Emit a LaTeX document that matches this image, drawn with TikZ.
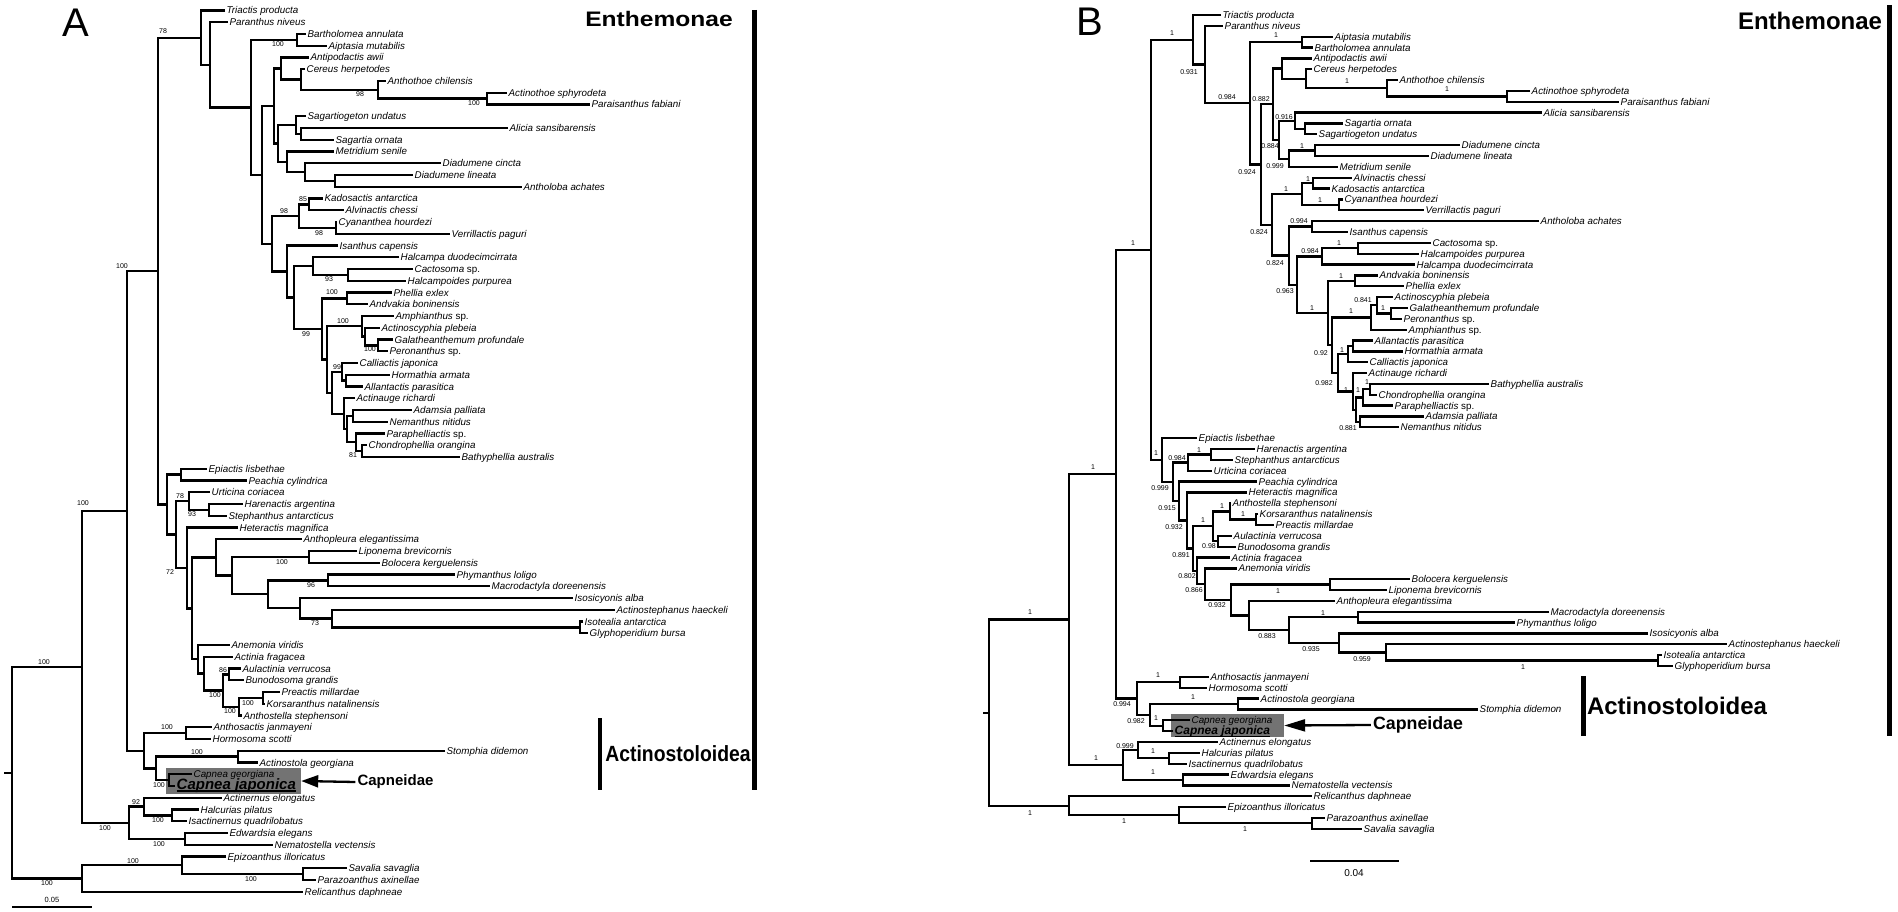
\documentclass[tikz,border=0pt]{standalone}
\usepackage{fontspec}
\setmainfont{Liberation Sans}
\usetikzlibrary{calc,arrows.meta}
\definecolor{capgray}{gray}{0.45}
\newcommand\tipfont{\fontsize{9.8}{10}\selectfont\itshape}
\newcommand\capA{\fontsize{15}{15}\selectfont\bfseries}
\newcommand\capB{\fontsize{12}{12}\selectfont\bfseries}
\newcommand\thickul[1]{\setbox0\hbox{#1}\rlap{\rule[-2.2pt]{\wd0}{1.3pt}}#1}
\newcommand\clade[4]{\path let \p1=(#3), \p2=(#4) in coordinate (#1) at (#2pt,{(\y1+\y2)/2});
\draw[branch] (#3) -| (#1) |- (#4);}
\begin{document}
\begin{tikzpicture}[x=1pt,y=-1pt,branch/.style={line width=2.3pt},tip/.style={anchor=west,font=\tipfont,inner sep=1.5pt,text height=9pt,text depth=2pt},bs/.style={font=\fontsize{7}{7}\selectfont,inner sep=0pt},bar/.style={line width=5pt},capbox/.style={fill=capgray,inner sep=0pt},pointer/.style={line width=2.3pt,-{Triangle[length=17pt,width=12pt]}}]
\useasboundingbox (0,0) rectangle (1898,912);
\def\ya{11.75}
\def\yb{10.85}

% panel A
\node[capbox,minimum width=135pt,minimum height=26pt] (boxA) at (233.5,781) {};
\foreach \x/\t [count=\i] in {225/Triactis producta, 228/Paranthus niveus, 306/Bartholomea annulata, 327/Aiptasia mutabilis,
309/Antipodactis awii, 305/Cereus herpetodes, 386/Anthothoe chilensis, 507/Actinothoe sphyrodeta,
590/Paraisanthus fabiani, 306/Sagartiogeton undatus, 508/Alicia sansibarensis, 334/Sagartia ornata,
334/Metridium senile, 441/Diadumene cincta, 413/Diadumene lineata, 522/Antholoba achates,
323/Kadosactis antarctica, 344/Alvinactis chessi, 337/Cyananthea hourdezi, 450/Verrillactis paguri,
338/Isanthus capensis, 399/Halcampa duodecimcirrata, 413/Cactosoma {\upshape sp.}, 406/Halcampoides purpurea,
392/Phellia exlex, 368/Andvakia boninensis, 394/Amphianthus {\upshape sp.}, 380/Actinoscyphia plebeia,
393/Galatheanthemum profundale, 388/Peronanthus {\upshape sp.}, 358/Calliactis japonica, 390/Hormathia armata,
363/Allantactis parasitica, 355/Actinauge richardi, 412/Adamsia palliata, 388/Nemanthus nitidus,
385/Paraphelliactis {\upshape sp.}, 367/Chondrophellia orangina, 460/Bathyphellia australis, 207/Epiactis lisbethae,
247/Peachia cylindrica, 210/Urticina coriacea, 243/Harenactis argentina, 227/Stephanthus antarcticus,
238/Heteractis magnifica, 302/Anthopleura elegantissima, 357/Liponema brevicornis, 380/Bolocera kerguelensis,
455/Phymanthus loligo, 490/Macrodactyla doreenensis, 573/Isosicyonis alba, 615/Actinostephanus haeckeli,
583/Isotealia antarctica, 588/Glyphoperidium bursa, 230/Anemonia viridis, 233/Actinia fragacea,
241/Aulactinia verrucosa, 244/Bunodosoma grandis, 280/Preactis millardae, 265/Korsaranthus natalinensis,
242/Anthostella stephensoni, 212/Anthosactis janmayeni, 211/Hormosoma scotti, 445/Stomphia didemon,
258/Actinostola georgiana, 192/Capnea georgiana, 175/{\capA\thickul{Capnea japonica}}, 222/Actinernus elongatus,
199/Halcurias pilatus, 187/Isactinernus quadrilobatus, 228/Edwardsia elegans, 273/Nematostella vectensis,
226/Epizoanthus illoricatus, 347/Savalia savaglia, 316/Parazoanthus axinellae, 303/Relicanthus daphneae}
{\coordinate (a\i) at (\x,{10.5+(\i-1)*\ya}); \node[tip] (ta\i) at (a\i) {\t};}

\clade{A297}{297}{a3}{a4}
\clade{A487}{487}{a8}{a9}
\clade{A378}{378}{a7}{A487}
\clade{A301}{301}{a6}{A378}
\clade{A281}{281}{a5}{A301}
\clade{A301s}{301}{a11}{a12}
\clade{A296}{296}{a10}{A301s}
\clade{A335}{335}{a15}{a16}
\clade{A305}{305}{a14}{A335}
\clade{A287}{287}{a13}{A305}
\clade{A278}{278}{A296}{A287}
\clade{A274}{274}{A281}{A278}
\clade{A309}{309}{a17}{a18}
\clade{A336}{336}{a19}{a20}
\clade{A299}{299}{A309}{A336}
\clade{A348}{348}{a23}{a24}
\clade{A313}{313}{a22}{A348}
\clade{A347}{347}{a25}{a26}
\clade{A378g}{378}{a29}{a30}
\clade{A365}{365}{a28}{A378g}
\clade{A362}{362}{a27}{A365}
\clade{A346}{346}{a32}{a33}
\clade{A342}{342}{a31}{A346}
\clade{A353}{353}{a35}{a36}
\clade{A362c}{362}{a38}{a39}
\clade{A356}{356}{a37}{A362c}
\clade{A347c}{347}{A353}{A356}
\clade{A344}{344}{a34}{A347c}
\clade{A332}{332}{A342}{A344}
\clade{A327}{327}{A362}{A332}
\clade{A322}{322}{A347}{A327}
\clade{A294}{294}{A313}{A322}
\clade{A287i}{287}{a21}{A294}
\clade{A272}{272}{A299}{A287i}
\clade{A262}{262}{A274}{A272}
\clade{A251}{251}{A297}{A262}
\clade{A210}{210}{a2}{A251}
\clade{A201}{201}{a1}{A210}
\clade{A181}{181}{a40}{a41}
\clade{A209}{209}{a43}{a44}
\clade{A189}{189}{a42}{A209}
\clade{A309l}{309}{a47}{a48}
\clade{A328}{328}{a49}{a50}
\clade{A580}{580}{a53}{a54}
\clade{A332i}{332}{a52}{A580}
\clade{A300}{300}{a51}{A332i}
\clade{A268}{268}{A328}{A300}
\clade{A232}{232}{A309l}{A268}
\clade{A216}{216}{a46}{A232}
\clade{A229}{229}{a57}{a58}
\clade{A263}{263}{a59}{a60}
\clade{A239}{239}{A263}{a61}
\clade{A223}{223}{A229}{A239}
\clade{A204}{204}{a56}{A223}
\clade{A198}{198}{a55}{A204}
\clade{A192}{192}{A216}{A198}
\clade{A187}{187}{a45}{A192}
\clade{A176}{176}{A189}{A187}
\clade{A167}{167}{A181}{A176}
\clade{A158}{158}{A201}{A167}
\clade{A186}{186}{a62}{a63}
\clade{A238}{238}{a64}{a65}
\clade{A169}{169}{a66}{a67}
\clade{A156}{156}{A238}{A169}
\clade{A144}{144}{A186}{A156}
\clade{A127}{127}{A158}{A144}
\clade{A172}{172}{a69}{a70}
\clade{A144e}{144}{a68}{A172}
\clade{A185}{185}{a71}{a72}
\clade{A129}{129}{A144e}{A185}
\clade{A82}{82}{A127}{A129}
\clade{A303}{303}{a74}{a75}
\clade{A182}{182}{a73}{A303}
\clade{A82z}{82}{A182}{a76}
\clade{Aroot}{12}{A82}{A82z}
\path (Aroot) ++(-8,0) coordinate (stubA);
\draw[branch] (stubA) -- (Aroot);

\foreach \x/\y/\v [count=\i] in {163/31/78, 278/44/100, 360/94/98, 474/103/100, 122/266/100, 303/199/85, 284/211/98,
319/233/98, 329/279/93, 332/292/100, 306/334/99, 343/321/100, 370/349/100, 337/367/99, 353/455/81, 83/503/100,
180/496/78, 192/514/93, 282/562/100, 170/572/72, 311/585/96, 315/623/73, 44/662/100, 223/670/86, 215/695/100,
248/703/100, 230/711/100, 167/727/100, 197/752/100, 159/785/100, 136/802/92, 158/820/100, 105/828/100,
159/844/100, 133/861/100, 251/879/100, 47/883/100}
\node[bs] (sa\i) at (\x,\y) {\v};

\coordinate (sclA1) at (12,907);
\coordinate (sclA2) at (92,907);
\draw[branch] (sclA1) -- (sclA2);
\node[bs,font=\fontsize{7.5}{7.5}\selectfont] (sclAl) at (52,900) {0.05};

\node[font=\fontsize{40}{40}\selectfont] (labA) at (76,23) {A};
\node[font=\fontsize{21}{21}\selectfont\bfseries] (enthA) at (659,19) {\scalebox{1.17}[1]{Enthemonae}};
\coordinate (barA1) at (754,10);
\coordinate (barA2) at (754,790);
\draw[bar] (barA1) -- (barA2);
\node[font=\fontsize{22}{22}\selectfont\bfseries] (actA) at (678,754) {\scalebox{0.88}[1]{Actinostoloidea}};
\coordinate (barA3) at (600,718);
\coordinate (barA4) at (600,790);
\draw[line width=4pt] (barA3) -- (barA4);
\node[font=\fontsize{15}{15}\selectfont\bfseries,inner sep=2pt] (cpnA) at (395.5,782) {Capneidae};
\draw[pointer] (cpnA.west) -- (boxA.east);

% panel B
\node[capbox,minimum width=113pt,minimum height=23pt] (boxB) at (1227.5,725.5) {};
\foreach \x/\t [count=\i] in {1221/Triactis producta, 1223/Paranthus niveus, 1333/Aiptasia mutabilis, 1313/Bartholomea annulata,
1312/Antipodactis awii, 1312/Cereus herpetodes, 1398/Anthothoe chilensis, 1530/Actinothoe sphyrodeta,
1619/Paraisanthus fabiani, 1542/Alicia sansibarensis, 1343/Sagartia ornata, 1317/Sagartiogeton undatus,
1460/Diadumene cincta, 1429/Diadumene lineata, 1338/Metridium senile, 1352/Alvinactis chessi,
1330/Kadosactis antarctica, 1343/Cyananthea hourdezi, 1424/Verrillactis paguri, 1539/Antholoba achates,
1348/Isanthus capensis, 1431/Cactosoma {\upshape sp.}, 1419/Halcampoides purpurea, 1415/Halcampa duodecimcirrata,
1378/Andvakia boninensis, 1404/Phellia exlex, 1393/Actinoscyphia plebeia, 1408/Galatheanthemum profundale,
1402/Peronanthus {\upshape sp.}, 1407/Amphianthus {\upshape sp.}, 1373/Allantactis parasitica, 1403/Hormathia armata,
1368/Calliactis japonica, 1367/Actinauge richardi, 1489/Bathyphellia australis, 1377/Chondrophellia orangina,
1393/Paraphelliactis {\upshape sp.}, 1424/Adamsia palliata, 1399/Nemanthus nitidus, 1197/Epiactis lisbethae,
1255/Harenactis argentina, 1233/Stephanthus antarcticus, 1212/Urticina coriacea, 1257/Peachia cylindrica,
1247/Heteractis magnifica, 1231/Anthostella stephensoni, 1258/Korsaranthus natalinensis, 1274/Preactis millardae,
1232/Aulactinia verrucosa, 1236/Bunodosoma grandis, 1230/Actinia fragacea, 1237/Anemonia viridis,
1410/Bolocera kerguelensis, 1387/Liponema brevicornis, 1335/Anthopleura elegantissima, 1549/Macrodactyla doreenensis,
1515/Phymanthus loligo, 1648/Isosicyonis alba, 1727/Actinostephanus haeckeli, 1662/Isotealia antarctica,
1673/Glyphoperidium bursa, 1209/Anthosactis janmayeni, 1207/Hormosoma scotti, 1259/Actinostola georgiana,
1478/Stomphia didemon, 1190/Capnea georgiana, 1173/{\capB\thickul{Capnea japonica}}, 1218/Actinernus elongatus,
1200/Halcurias pilatus, 1187/Isactinernus quadrilobatus, 1229/Edwardsia elegans, 1290/Nematostella vectensis,
1312/Relicanthus daphneae, 1226/Epizoanthus illoricatus, 1325/Parazoanthus axinellae, 1362/Savalia savaglia}
{\coordinate (b\i) at (\x,{15+(\i-1)*\yb}); \node[tip] (tb\i) at (b\i) {\t};}

\clade{B1302}{1302}{b3}{b4}
\clade{B1507}{1507}{b8}{b9}
\clade{B1387}{1387}{b7}{B1507}
\clade{B1306}{1306}{b6}{B1387}
\clade{B1282}{1282}{b5}{B1306}
\clade{B1305}{1305}{b11}{b12}
\clade{B1295}{1295}{b10}{B1305}
\clade{B1315}{1315}{b13}{b14}
\clade{B1289}{1289}{B1315}{b15}
\clade{B1279}{1279}{B1295}{B1289}
\clade{B1273}{1273}{B1282}{B1279}
\clade{B1313}{1313}{b16}{b17}
\clade{B1339}{1339}{b18}{b19}
\clade{B1302k}{1302}{B1313}{B1339}
\clade{B1312}{1312}{b20}{b21}
\clade{B1358}{1358}{b22}{b23}
\clade{B1322}{1322}{B1358}{b24}
\clade{B1355}{1355}{b25}{b26}
\clade{B1391}{1391}{b28}{b29}
\clade{B1377}{1377}{b27}{B1391}
\clade{B1371}{1371}{B1377}{b30}
\clade{B1353}{1353}{b31}{b32}
\clade{B1348}{1348}{B1353}{b33}
\clade{B1370}{1370}{b35}{b36}
\clade{B1363}{1363}{B1370}{b37}
\clade{B1360}{1360}{b38}{b39}
\clade{B1356}{1356}{B1363}{B1360}
\clade{B1353a}{1353}{b34}{B1356}
\clade{B1338}{1338}{B1348}{B1353a}
\clade{B1332}{1332}{B1371}{B1338}
\clade{B1328}{1328}{B1355}{B1332}
\clade{B1297}{1297}{B1322}{B1328}
\clade{B1289i}{1289}{B1312}{B1297}
\clade{B1272}{1272}{B1302k}{B1289i}
\clade{B1261}{1261}{B1273}{B1272}
\clade{B1250}{1250}{B1302}{B1261}
\clade{B1205}{1205}{b2}{B1250}
\clade{B1193}{1193}{b1}{B1205}
\clade{B1211}{1211}{b41}{b42}
\clade{B1188}{1188}{B1211}{b43}
\clade{B1256}{1256}{b47}{b48}
\clade{B1230}{1230}{b46}{B1256}
\clade{B1218}{1218}{b49}{b50}
\clade{B1213}{1213}{B1230}{B1218}
\clade{B1330}{1330}{b53}{b54}
\clade{B1358l}{1358}{b56}{b57}
\clade{B1658}{1658}{b60}{b61}
\clade{B1386}{1386}{b59}{B1658}
\clade{B1339i}{1339}{b58}{B1386}
\clade{B1289p}{1289}{B1358l}{B1339i}
\clade{B1249}{1249}{b55}{B1289p}
\clade{B1231}{1231}{B1330}{B1249}
\clade{B1205a}{1205}{b52}{B1231}
\clade{B1197}{1197}{b51}{B1205a}
\clade{B1193a}{1193}{B1213}{B1197}
\clade{B1187}{1187}{b45}{B1193a}
\clade{B1179}{1179}{b44}{B1187}
\clade{B1173}{1173}{B1188}{B1179}
\clade{B1162}{1162}{b40}{B1173}
\clade{B1151}{1151}{B1193}{B1162}
\clade{B1180}{1180}{b62}{b63}
\clade{B1238}{1238}{b64}{b65}
\clade{B1163}{1163}{b66}{b67}
\clade{B1150}{1150}{B1238}{B1163}
\clade{B1137}{1137}{B1180}{B1150}
\clade{B1116}{1116}{B1151}{B1137}
\clade{B1169}{1169}{b69}{b70}
\clade{B1138}{1138}{b68}{B1169}
\clade{B1183}{1183}{b71}{b72}
\clade{B1123}{1123}{B1138}{B1183}
\clade{B1069}{1069}{B1116}{B1123}
\clade{B1312z}{1312}{b75}{b76}
\clade{B1179z}{1179}{b74}{B1312z}
\clade{B1069z}{1069}{b73}{B1179z}
\clade{Broot}{989}{B1069}{B1069z}
\path (Broot) ++(-6,0) coordinate (stubB);
\draw[branch] (stubB) -- (Broot);

\foreach \x/\y/\v [count=\i] in {1172/33/1, 1189/72/0.931, 1227/97/0.984, 1276/35/1, 1261/99/0.882, 1347/81/1,
1447/89/1, 1284/117/0.916, 1270/146/0.884, 1302/146/1, 1275/166/0.999, 1247/172/0.924, 1286/189/1, 1308/179/1,
1320/200/1, 1299/221/0.994, 1259/232/0.824, 1133/243/1, 1339/243/1, 1310/251/0.984, 1275/263/0.824, 1341/276/1,
1285/291/0.963, 1363/300/0.841, 1383/308/1, 1312/308/1, 1351/311/1, 1342/350/1, 1321/353/0.92, 1367/382/1,
1324/383/0.982, 1346/390/1, 1358/390/1, 1348/428/0.881, 1156/453/1, 1177/458/0.984, 1199/450/1, 1160/488/0.999,
1167/508/0.915, 1203/520/1, 1222/506/1, 1243/514/1, 1174/527/0.932, 1209/546/0.98, 1181/555/0.891, 1187/576/0.802,
1194/590/0.866, 1278/591/1, 1217/605/0.932, 1323/613/1, 1267/636/0.883, 1311/649/0.935, 1362/659/0.959,
1523/667/1, 1093/467/1, 1030/612/1, 1158/675/1, 1193/697/1, 1122/704/0.994, 1156/718/1, 1136/721/0.982,
1125/746/0.999, 1153/751/1, 1096/758/1, 1153/772/1, 1030/813/1, 1124/821/1, 1245/829/1}
\node[bs] (sb\i) at (\x,\y) {\v};

\coordinate (sclB1) at (1310,861);
\coordinate (sclB2) at (1399,861);
\draw[branch] (sclB1) -- (sclB2);
\node[bs,font=\fontsize{10}{10}\selectfont] (sclBl) at (1354,873) {0.04};

\node[font=\fontsize{40}{40}\selectfont] (labB) at (1090,22) {B};
\node[font=\fontsize{24}{24}\selectfont\bfseries] (enthB) at (1810,21) {Enthemonae};
\coordinate (barB1) at (1889,5);
\coordinate (barB2) at (1889,736);
\draw[bar] (barB1) -- (barB2);
\node[font=\fontsize{24}{24}\selectfont\bfseries] (actB) at (1677,706) {Actinostoloidea};
\coordinate (barB3) at (1583,676);
\coordinate (barB4) at (1583,736);
\draw[bar] (barB3) -- (barB4);
\node[font=\fontsize{17.8}{17.8}\selectfont\bfseries,inner sep=2pt] (cpnB) at (1418,725) {Capneidae};
\draw[pointer,-{Triangle[length=21pt,width=12pt]}] (cpnB.west) -- (boxB.east);
\end{tikzpicture}
\end{document}
